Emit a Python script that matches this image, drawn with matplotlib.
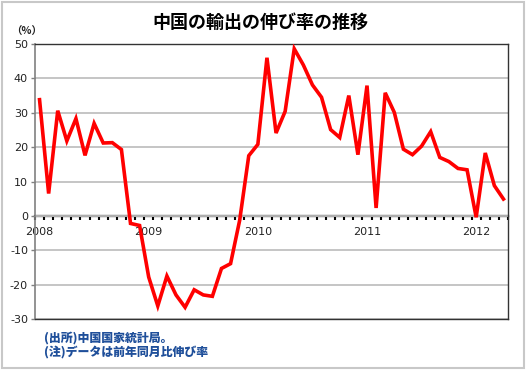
import matplotlib
matplotlib.use("Agg")
import matplotlib.pyplot as plt
from matplotlib.patches import Rectangle

plt.rcParams['font.family'] = ['DejaVu Sans', 'Noto Sans CJK JP']
plt.rcParams['axes.unicode_minus'] = False

# 輸出の前年同月比 (%), 2008年1月 - 2012年4月
growth = [
    33.8, 6.5, 30.6, 21.8, 28.3, 17.6, 26.9, 21.2, 21.3, 19.3, -2.2, -2.8,   # 2008
    -17.8, -26.2, -17.5, -23.0, -26.6, -21.5, -23.0, -23.4, -15.3, -13.9, -1.3, 17.5,  # 2009
    20.8, 46.0, 24.1, 30.4, 48.6, 43.9, 38.1, 34.5, 25.1, 22.8, 35.0, 17.8,   # 2010
    37.9, 2.3, 35.8, 30.1, 19.4, 17.8, 20.3, 24.5, 17.0, 15.8, 13.8, 13.4,    # 2011
    -0.4, 18.3, 8.8, 4.9,                                                     # 2012
]
year_labels = ['2008', '2009', '2010', '2011', '2012']
y_ticks = [-30, -20, -10, 0, 10, 20, 30, 40, 50]

title = '中国の輸出の伸び率の推移'
unit = '（%）'
notes = ['(出所)中国国家統計局。', '(注)データは前年同月比伸び率']
jp = ['Noto Sans CJK JP', 'DejaVu Sans']

fig = plt.figure(figsize=(5.28, 3.70), dpi=100)
ax = fig.add_axes([35/528, 1 - 319/370, 473/528, 275/370])

n = len(growth)
x = list(range(n))
ax.plot(x, growth, color='#ff0000', lw=2.6, solid_joinstyle='miter', zorder=3)

ax.set_xlim(-0.5, n - 0.5)
ax.set_ylim(-30, 50)
ax.set_yticks(y_ticks)
ax.yaxis.grid(True, color='#c0c0c0', lw=1.3)
ax.set_axisbelow(True)
ax.tick_params(axis='y', labelsize=8, length=3, width=1, color='#808080',
               labelcolor='#222222', pad=2)
ax.set_xticks([])
for s in ['top', 'right', 'bottom']:
    ax.spines[s].set_color('#333333')
    ax.spines[s].set_linewidth(1)
ax.spines['left'].set_color('#808080')
ax.spines['left'].set_linewidth(1.2)

# zero axis with month ticks and year labels
zero = ax.secondary_xaxis(30 / 80)
zero.spines['bottom'].set_color('black')
zero.spines['bottom'].set_linewidth(1.6)
zero.set_xticks([i * 12 for i in range(len(year_labels))])
zero.set_xticklabels(year_labels)
zero.set_xticks([i - 0.5 for i in range(n + 1)], minor=True)
zero.tick_params(axis='x', which='major', length=0, labelsize=8, pad=8,
                 labelcolor='#222222')
zero.tick_params(axis='x', which='minor', length=3, width=1.5,
                 color='black', direction='out')

fig.text(0.494, 1 - 22/370, title, ha='center', va='center', fontsize=13,
         fontweight='bold', family=jp)
fig.text(11/528, 1 - 32/370, unit, ha='left', va='center', fontsize=7.5,
         fontweight='bold', color='#222222', family=jp)
for k, t in enumerate(notes):
    fig.text(44/528, 1 - (338 + 14*k)/370, t, ha='left', va='center',
             fontsize=8.6, fontweight='black', color='#1f4f9a', family=jp)

fig.patches.append(Rectangle((2/528, 2/370), 522/528, 366/370,
                             transform=fig.transFigure, fill=False,
                             edgecolor='#c8c8c8', lw=1.5))

fig.savefig('out.png', dpi=100)
